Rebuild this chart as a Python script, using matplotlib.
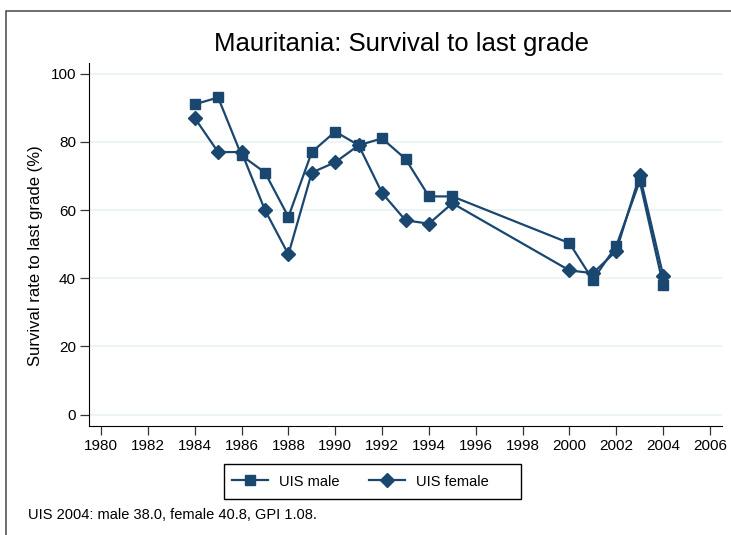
import matplotlib
matplotlib.use("Agg")
import matplotlib.pyplot as plt
from matplotlib.patches import Rectangle

# survival to last grade
years = [1984, 1985, 1986, 1987, 1988, 1989, 1990, 1991, 1992, 1993, 1994, 1995,
         2000, 2001, 2002, 2003, 2004]
male = [91, 93, 76, 71, 58, 77, 83, 79, 81, 75, 64, 64, 50.3, 39.5, 49.5, 68.5, 38.0]
female = [87, 77, 77, 60, 47, 71, 74, 79, 65, 57, 56, 62, 42.3, 41.5, 48, 70.3, 40.8]
xticks = list(range(1980, 2007, 2))
yticks = [0, 20, 40, 60, 80, 100]

navy = "#1a476f"
plt.rcParams['font.family'] = ['Liberation Sans', 'DejaVu Sans']

W, H = 731, 535
fig = plt.figure(figsize=(W / 100, H / 100), dpi=100)
# axes box in pixels: left 89, right 722, top 63, bottom 426
ax = fig.add_axes([89.3 / W, 1 - 426 / H, (721.7 - 89.3) / W, (426 - 62.7) / H])

# outer frame of the graph region
fig.patches.append(Rectangle((6 / W, -0.1), 1.1, 1 - 11 / H + 0.1,
                             transform=fig.transFigure, fill=False,
                             edgecolor="#555555", linewidth=1.2))

ax.plot(years, male, color=navy, lw=1.6, marker='s', ms=7.5, label="UIS male")
ax.plot(years, female, color=navy, lw=1.6, marker='D', ms=7, label="UIS female")

ax.set_xlim(1979.5, 2006.5)
ax.set_ylim(-3.31, 103.2)
ax.set_xticks(xticks)
ax.set_yticks(yticks)
ax.grid(axis='y', color="#eaf2f3", lw=1.2)
ax.set_axisbelow(True)
for s in ['top', 'right']:
    ax.spines[s].set_visible(False)
ax.tick_params(labelsize=11, length=6.5, width=0.9, color="#333333", pad=3)
ax.set_ylabel("Survival rate to last grade (%)", fontsize=12)
ax.yaxis.set_label_coords((43 - 89.3) / 632.4, (426 - 256) / 363.3)

fig.text(402 / W, 1 - 44 / H, "Mauritania: Survival to last grade",
         ha='center', va='center', fontsize=18.5)

# legend entries without frame; the Stata-style box is drawn separately
leg = fig.legend(loc='center left', bbox_to_anchor=(232 / W, 1 - 481.5 / H), ncol=2,
                 frameon=False, fontsize=10.5, handlelength=2.47,
                 handletextpad=0.75, columnspacing=2.0,
                 borderpad=0, borderaxespad=0)
fig.patches.append(Rectangle((224 / W, 1 - 499 / H), (521 - 224) / W, 35 / H,
                             transform=fig.transFigure, fill=False,
                             edgecolor='black', linewidth=1.0))

fig.text(28 / W, 1 - 515 / H, "UIS 2004: male 38.0, female 40.8, GPI 1.08.",
         ha='left', va='center', fontsize=10.5)

fig.savefig("out.png", dpi=100)
